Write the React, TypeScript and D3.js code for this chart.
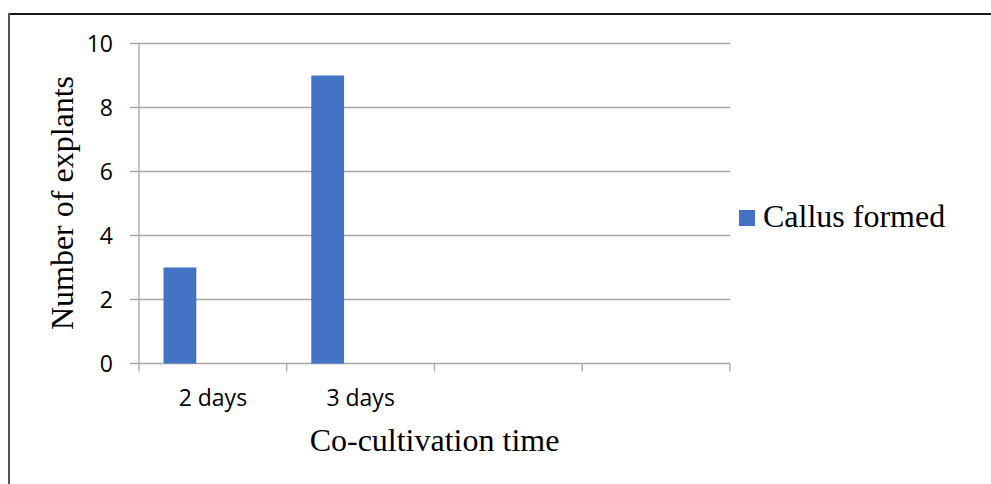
import React from "react";
import * as d3 from "d3";

const categories = ["2 days", "3 days", "", ""];
const callusFormed = [3, 9, null, null];
const yTicks = [0, 2, 4, 6, 8, 10];
const seriesName = "Callus formed";
const xTitle = "Co-cultivation time";
const yTitle = "Number of explants";

const W = 991;
const H = 484;
const plot = { left: 139, right: 730, top: 43.5, bottom: 363.5 };
const barColor = "#4472C4";
const gridColor = "#a6a6a6";
const sans = "'Open Sans', Lato, sans-serif";
const serif = "'Liberation Serif', 'Times New Roman', serif";

export default function App() {
  const x = d3
    .scaleBand<number>()
    .domain(categories.map((_, i) => i))
    .range([plot.left, plot.right])
    .paddingInner(0)
    .paddingOuter(0);
  const y = d3.scaleLinear().domain([0, 10]).range([plot.bottom, plot.top]);
  const bw = x.bandwidth();
  const barOffset = bw * 0.166;
  const barWidth = bw * 0.222;
  const tickEdges = [...categories.map((_, i) => x(i)!), plot.right];

  return (
    <svg
      width={W}
      height={H}
      style={{ position: "absolute", left: 0, top: 0, background: "#fff" }}
    >
      <rect x={0} y={0} width={W} height={H} fill="#fff" />
      {/* frame */}
      <line x1={9} x2={W} y1={14} y2={14} stroke="#1a1a1a" strokeWidth={2} />
      <line x1={9} x2={9} y1={13} y2={H} stroke="#555" strokeWidth={2} />

      {/* grid */}
      {yTicks.map((t) => (
        <line
          key={"g" + t}
          x1={plot.left - 9}
          x2={plot.right}
          y1={y(t)}
          y2={y(t)}
          stroke={gridColor}
          strokeWidth={1.3}
        />
      ))}
      {/* y axis line */}
      <line
        x1={plot.left}
        x2={plot.left}
        y1={plot.top}
        y2={plot.bottom}
        stroke={gridColor}
        strokeWidth={1.3}
      />
      {/* x ticks */}
      {tickEdges.map((e, i) => (
        <line
          key={"xt" + i}
          x1={e}
          x2={e}
          y1={plot.bottom}
          y2={plot.bottom + 8}
          stroke={gridColor}
          strokeWidth={1.3}
        />
      ))}

      {/* bars */}
      {callusFormed.map((v, i) =>
        v == null ? null : (
          <rect
            key={"b" + i}
            x={x(i)! + barOffset}
            y={y(v)}
            width={barWidth}
            height={y(0) - y(v)}
            fill={barColor}
          />
        )
      )}

      {/* y tick labels */}
      {yTicks.map((t) => (
        <text
          key={"yl" + t}
          x={113}
          y={y(t)}
          dy="0.36em"
          textAnchor="end"
          fontFamily={sans}
          fontSize={23}
          fill="#000"
        >
          {t}
        </text>
      ))}

      {/* x category labels */}
      {categories.map((c, i) => (
        <text
          key={"xl" + i}
          x={x(i)! + bw / 2}
          y={406}
          textAnchor="middle"
          fontFamily={sans}
          fontSize={23}
          fill="#000"
        >
          {c}
        </text>
      ))}

      {/* axis titles */}
      <text
        x={(plot.left + plot.right) / 2}
        y={450.5}
        textAnchor="middle"
        fontFamily={serif}
        fontSize={32}
        fill="#000"
      >
        {xTitle}
      </text>
      <text
        transform={`translate(73, ${203}) rotate(-90)`}
        textAnchor="middle"
        fontFamily={serif}
        fontSize={32}
        fill="#000"
      >
        {yTitle}
      </text>

      {/* legend */}
      <rect x={739} y={210} width={16} height={16} fill={barColor} />
      <text x={763} y={227} fontFamily={serif} fontSize={32} fill="#000">
        {seriesName}
      </text>
    </svg>
  );
}
